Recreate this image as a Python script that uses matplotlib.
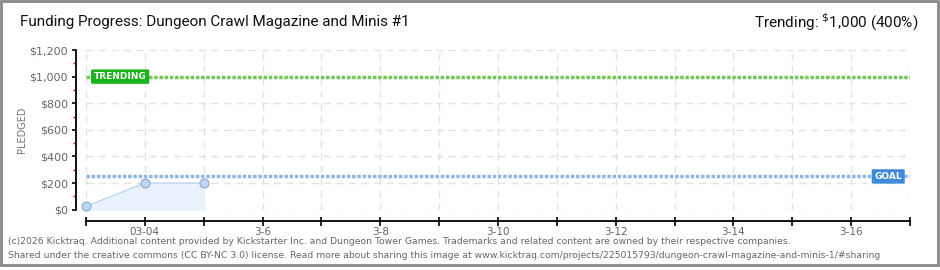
import matplotlib.pyplot as plt
import matplotlib.patches as mpatches
import numpy as np

# funding data (day index 0 = 3-3)
day_labels = ['3-3', '3-4', '3-5', '3-6', '3-7', '3-8', '3-9', '3-10',
              '3-11', '3-12', '3-13', '3-14', '3-15', '3-16', '3-17']
pledged_days = [0, 1, 2]
pledged = [25, 200, 200]
goal = 250
trending = 1000
tick_text = ['', '03-04', '', '3-6', '', '3-8', '', '3-10',
             '', '3-12', '', '3-14', '', '3-16', '']

head_font = ['Roboto', 'DejaVu Sans']
PX = 72 / 100  # points per pixel

fig = plt.figure(figsize=(9.4, 2.7), dpi=100)
ax = fig.add_axes([86/940, 1-209.7/270, (910-86)/940, (209.7-50)/270])

x = np.arange(len(day_labels))
ax.set_xlim(0, len(day_labels)-1)
ax.set_ylim(0, 1200)

# grid
for xi in x:
    ax.axvline(xi, color='#e2e2e2', lw=1, ls=(0, (5, 4)), zorder=0)
for yv in range(0, 1201, 200):
    ax.axhline(yv, color='#e2e2e2', lw=1, ls=(0, (5, 4)), zorder=0)

# pledged series
ax.fill_between(pledged_days, pledged, 0, color='#eaf3fd', zorder=1)
ax.plot(pledged_days, pledged, color='#bcd7f5', lw=1, zorder=2)
ax.plot(pledged_days, pledged, 'o', ms=6.5, mfc='#bcd7f5', mec='#93a9c4',
        mew=0.8, zorder=3, clip_on=False)

# trending and goal lines
ax.axhline(trending, color='#76c75a', lw=2.5, ls=(0, (1, 0.5)), zorder=2)
ax.axhline(goal, color='#90b6e2', lw=2.5, ls=(0, (1, 0.5)), zorder=2)

ax.text(0.58, trending, 'TRENDING', color='white', fontsize=6.5,
        fontweight='bold', ha='center', va='center', zorder=5,
        bbox=dict(boxstyle='round,pad=0.3,rounding_size=0.15',
                  fc='#1bb31b', ec='none'))
ax.text(13.63, goal, 'GOAL', color='white', fontsize=6.5, fontweight='bold',
        ha='center', va='center', zorder=5,
        bbox=dict(boxstyle='round,pad=0.3,rounding_size=0.15',
                  fc='#3f8ad8', ec='none'))

# axes styling
for s in ['top', 'right']:
    ax.spines[s].set_visible(False)
ax.spines['left'].set_position(('outward', 10 * PX))
ax.spines['bottom'].set_position(('outward', 11 * PX))
ax.spines['left'].set_linewidth(1.3)
ax.spines['bottom'].set_linewidth(1.3)

ax.set_yticks(range(0, 1201, 200))
ax.set_yticklabels(['${:,}'.format(v) for v in range(0, 1201, 200)],
                   color='#666666', fontsize=8)
ax.set_yticks(range(100, 1200, 200), minor=True)
ax.tick_params(axis='y', which='major', length=4 * PX, width=1.2, direction='out', pad=3)
ax.tick_params(axis='y', which='minor', length=3 * PX, width=1, color='red', direction='out')

ax.set_xticks(x)
ax.set_xticklabels(tick_text, color='#666666', fontsize=7.5)
ax.tick_params(axis='x', length=9 * PX, width=1.2, direction='inout', pad=1)

ax.set_ylabel('PLEDGED', color='#777777', fontsize=7)
ax.yaxis.set_label_coords((27 - 86) / 824, 0.5)

# header
fig.text(20/940, 1-22/270, 'Funding Progress: Dungeon Crawl Magazine and Minis #1',
         fontsize=11, va='center', ha='left', color='#111111', family=head_font)
fig.text(918/940, 1-22/270, r'Trending: $^{\$}$1,000 (400%)',
         fontsize=11, va='center', ha='right', color='#111111', family=head_font)

# footer
fig.text(8/940, 1-242/270,
         '(c)2026 Kicktraq. Additional content provided by Kickstarter Inc. and Dungeon Tower Games. '
         'Trademarks and related content are owned by their respective companies.',
         fontsize=6.7, color='#666666', va='center')
fig.text(8/940, 1-256/270,
         'Shared under the creative commons (CC BY-NC 3.0) license. Read more about sharing this image at '
         'www.kicktraq.com/projects/225015793/dungeon-crawl-magazine-and-minis-1/#sharing',
         fontsize=6.7, color='#666666', va='center')

# border
fig.patches.append(mpatches.Rectangle((0.001, 0.02), 0.997, 0.978, transform=fig.transFigure,
                                      fill=False, ec='#888888', lw=2))

fig.savefig('out.png', dpi=100)
